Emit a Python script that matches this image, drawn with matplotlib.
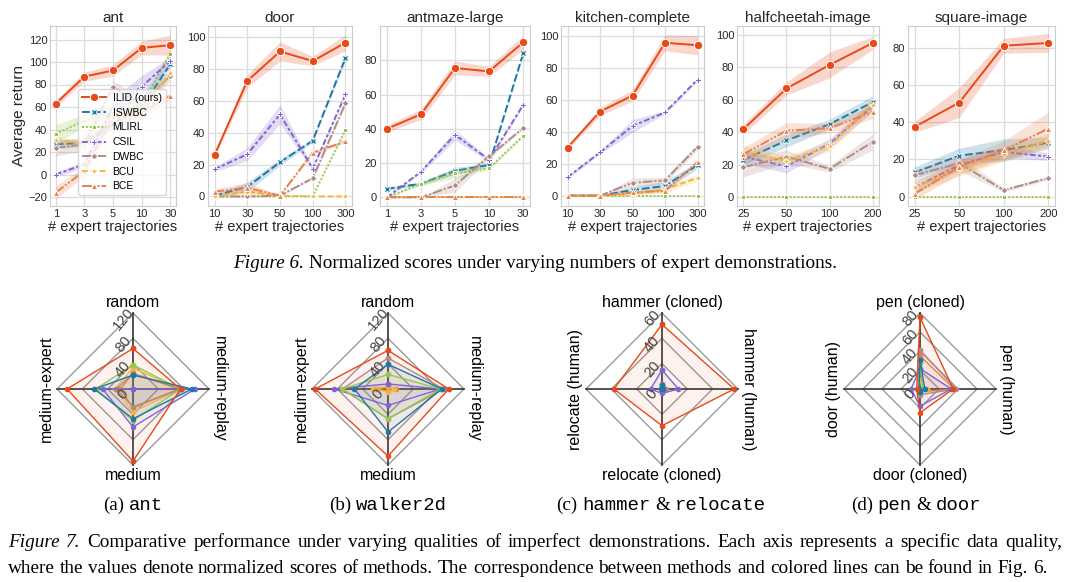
import numpy as np
import matplotlib
matplotlib.use('Agg')
import matplotlib.pyplot as plt

plt.rcParams['font.family'] = ['Liberation Sans', 'DejaVu Sans']
plt.rcParams['axes.unicode_minus'] = True

W, H = 1077, 582

methods = ['ILID (ours)', 'ISWBC', 'MLIRL', 'CSIL', 'DWBC', 'BCU', 'BCE']
colors = {'ILID (ours)': '#e64a19', 'ISWBC': '#1f78a4', 'MLIRL': '#95c84f',
          'CSIL': '#8064d4', 'DWBC': '#b08a84', 'BCU': '#f6b43f', 'BCE': '#e8804a'}
markers = {'ILID (ours)': 'o', 'ISWBC': 'X', 'MLIRL': (4, 0, 45), 'CSIL': 'P',
           'DWBC': (4, 0, 0), 'BCU': (4, 1, 0), 'BCE': '^'}
dashes = {'ILID (ours)': '-', 'ISWBC': (0, (4, 1.5)), 'MLIRL': (0, (1, 1)),
          'CSIL': (0, (3, 1.25, 1.5, 1.25)), 'DWBC': (0, (5, 1, 1, 1)),
          'BCU': (0, (3, 1.5)), 'BCE': (0, (5, 1, 1, 1, 1, 1))}

# ---- Figure 6 data (mean, sd) ----
ant_x = ['1', '3', '5', '10', '30']
ant_mean = {'ILID (ours)': [63, 87, 92.5, 112.5, 115], 'ISWBC': [27, 28, 45, 60, 98],
            'MLIRL': [36, 48, 55, 62, 107.5], 'CSIL': [0, 9, 60, 78, 101],
            'DWBC': [23.5, 27, 78, 62, 88], 'BCU': [31, 27, 50, 57, 90],
            'BCE': [-16, 3, 52, 55, 70]}
ant_sd = {'ILID (ours)': [3, 4, 5, 6, 9], 'ISWBC': [4, 3, 5, 6, 4], 'MLIRL': [8, 6, 6, 6, 3],
          'CSIL': [2, 3, 8, 10, 3], 'DWBC': [7, 6, 5, 6, 4], 'BCU': [3, 3, 4, 4, 3],
          'BCE': [6, 4, 5, 5, 3]}

door_x = ['10', '30', '50', '100', '300']
door_mean = {'ILID (ours)': [26, 72.5, 91, 85, 96.5], 'ISWBC': [0.5, 6, 21.5, 35, 87],
             'MLIRL': [0, 0, 0, 0, 42], 'CSIL': [17, 26.5, 51.5, 17.5, 64],
             'DWBC': [0, 0, 0.5, 11.5, 58.5], 'BCU': [0, 3, 0.5, 0, 0],
             'BCE': [3, 5.5, 0.5, 27.5, 34.5]}
door_sd = {'ILID (ours)': [1.5, 4, 6, 3, 5], 'ISWBC': [1, 3, 2, 1, 2], 'MLIRL': [0, 0, 0, 0, 1],
           'CSIL': [1.5, 4, 6, 1, 1], 'DWBC': [0, 0.5, 0.5, 1, 1], 'BCU': [0.5, 2, 0.5, 0, 0],
           'BCE': [2, 3, 0.5, 1, 1]}

antmaze_x = ['1', '3', '5', '10', '30']
antmaze_mean = {'ILID (ours)': [40, 48.5, 75.5, 73.5, 90.5], 'ISWBC': [5, 8, 15.5, 19, 84],
                'MLIRL': [0, 8, 14, 17, 36], 'CSIL': [0, 15, 36.5, 22, 54],
                'DWBC': [0, 0, 7, 24, 40.5], 'BCU': [0, 0, 0, 0, 0], 'BCE': [0, 0, 0, 0, 0]}
antmaze_sd = {'ILID (ours)': [2, 3, 4, 3, 4], 'ISWBC': [1, 1, 2, 1, 1], 'MLIRL': [0.5, 1, 3, 1, 1],
              'CSIL': [0.5, 1, 3, 1, 1], 'DWBC': [0, 0, 4, 1, 1], 'BCU': [0, 0, 0, 0, 0],
              'BCE': [0, 0, 0, 0, 0]}

kitchen_x = ['10', '30', '50', '100', '300']
kitchen_mean = {'ILID (ours)': [30, 52.5, 62.5, 95.5, 94], 'ISWBC': [0, 0, 3.5, 6, 19],
                'MLIRL': [0, 0, 0, 0, 0], 'CSIL': [11.5, 27, 43.5, 52, 72.5],
                'DWBC': [0, 0, 8, 9.5, 30.5], 'BCU': [0, 0, 1, 4, 11], 'BCE': [0, 0, 2, 3, 21]}
kitchen_sd = {'ILID (ours)': [1, 2.5, 3.5, 5, 6], 'ISWBC': [0, 0, 2, 3, 2], 'MLIRL': [0, 0, 0, 0, 0],
              'CSIL': [1, 1, 4, 1, 1], 'DWBC': [0, 0, 3, 2, 2], 'BCU': [0, 0, 1, 2, 2],
              'BCE': [0, 0, 1, 1, 1]}

cheetah_x = ['25', '50', '100', '200']
cheetah_mean = {'ILID (ours)': [42, 67, 81.5, 95], 'ISWBC': [23, 35, 45, 58.5],
                'MLIRL': [0, 0, 0, 0], 'CSIL': [25, 19, 33, 56], 'DWBC': [18.5, 25, 17.5, 34],
                'BCU': [28, 22.5, 31.5, 57], 'BCE': [26.5, 41, 42.5, 52.5]}
cheetah_sd = {'ILID (ours)': [3, 4, 8, 4], 'ISWBC': [3, 4, 3, 4], 'MLIRL': [0, 0, 0, 0],
              'CSIL': [4, 4, 3, 3], 'DWBC': [6, 4, 2, 5], 'BCU': [4, 3, 3, 4], 'BCE': [4, 5, 3, 4]}

square_x = ['25', '50', '100', '200']
square_mean = {'ILID (ours)': [37.5, 50.5, 81, 82.5], 'ISWBC': [13, 22, 25, 29],
               'MLIRL': [0, 0, 0, 0], 'CSIL': [5, 17, 24, 21.5], 'DWBC': [11.5, 18, 3.5, 10],
               'BCU': [5, 15, 23, 30], 'BCE': [1.5, 16, 25, 36.5]}
square_sd = {'ILID (ours)': [3, 8, 4, 5], 'ISWBC': [3, 4, 6, 3], 'MLIRL': [0, 0, 0, 0],
             'CSIL': [3, 3, 3, 2], 'DWBC': [3, 4, 1, 1], 'BCU': [3, 4, 4, 4], 'BCE': [3, 4, 5, 9]}

# ---- Figure 7 radar data: [top, right, bottom, left] ----
ant_axes = ['random', 'medium-replay', 'medium', 'medium-expert']
ant_radar = {'ILID (ours)': [64, 75, 114, 104], 'ISWBC': [22, 93, 47, 61],
             'MLIRL': [38, 75, 50, 59], 'CSIL': [0, 98, 60, 48], 'DWBC': [24, 77, 28, 27],
             'BCU': [33, 75, 36, 29], 'BCE': [25, 72, 30, 20]}
walker_axes = ['random', 'medium-replay', 'medium', 'medium-expert']
walker_radar = {'ILID (ours)': [61, 96, 106, 115], 'ISWBC': [39, 85, 68, 53],
                'MLIRL': [23, 83, 47, 72], 'CSIL': [8, 83, 26, 85], 'DWBC': [49, 88, 47, 72],
                'BCU': [4, 10, 4, 24], 'BCE': [3, 12, 3, 20]}
hammer_axes = ['hammer (cloned)', 'hammer (human)', 'relocate (cloned)', 'relocate (human)']
hammer_radar = {'ILID (ours)': [51, 57, 29, 38], 'ISWBC': [3, 1, 0, 1], 'MLIRL': [1, 0, 0, 0],
                'CSIL': [15, 13, 3.5, 9], 'DWBC': [4, 2, 0.5, 0.5], 'BCU': [1, 0.5, 0, 0],
                'BCE': [1.5, 3, 0, 0.5]}
pen_axes = ['pen (cloned)', 'pen (human)', 'door (cloned)', 'door (human)']
pen_radar = {'ILID (ours)': [75.5, 35, 25, 3.5], 'ISWBC': [31, 5, 3, 1], 'MLIRL': [27, 3, 1, 1],
             'CSIL': [21.5, 33, 18, 9.5], 'DWBC': [41, 38, 6, 2], 'BCU': [9, 7, 2, 1],
             'BCE': [35, 36, 3, 1]}

fig = plt.figure(figsize=(W / 100, H / 100), dpi=100)


def px_rect(x0, x1, y0, y1):
    return [x0 / W, 1 - y1 / H, (x1 - x0) / W, (y1 - y0) / H]


def line_panel(rect, title, xt, means, sds, ylim, yticks, ylabel=None, legend=False):
    ax = fig.add_axes(rect)
    x = np.arange(len(xt))
    handles = {}
    for i, m in enumerate(methods[::-1]):
        mu = np.array(means[m], float)
        sd = np.array(sds[m], float)
        z = 10 - i if m != 'ILID (ours)' else 20
        ax.fill_between(x, mu - sd, mu + sd, color=colors[m], alpha=0.22, lw=0, zorder=z - 0.5)
        ms = 6 if m == 'ILID (ours)' else 5
        h, = ax.plot(x, mu, color=colors[m], ls=dashes[m], lw=1.4, marker=markers[m], ms=ms,
                     mec='white', mew=0.7, zorder=z, label=m)
        handles[m] = h
    ax.set_xticks(x)
    ax.set_xticklabels(xt)
    ax.set_ylim(*ylim)
    ax.set_yticks(yticks)
    ax.set_title(title, fontsize=11, pad=3, color='#262626')
    ax.set_xlabel('# expert trajectories', fontsize=10.5, labelpad=1, color='#262626')
    if ylabel:
        ax.set_ylabel(ylabel, fontsize=11, labelpad=2, color='#262626')
    ax.grid(True, color='#dcdcdc', lw=0.9)
    ax.set_axisbelow(True)
    for s in ax.spines.values():
        s.set_color('#cccccc')
    ax.tick_params(length=0, labelsize=8, pad=2, colors='#262626')
    if legend:
        lg = ax.legend([handles[m] for m in methods], methods, loc='lower right',
                       bbox_to_anchor=(0.96, 0.03), fontsize=7.5, handlelength=2.3,
                       handletextpad=0.6, labelspacing=0.45, borderpad=0.4, framealpha=0.8,
                       edgecolor='#cccccc', fancybox=True)
        lg.set_zorder(30)
    return ax


line_panel(px_rect(50, 176, 26, 206), 'ant', ant_x, ant_mean, ant_sd, (-28, 132),
           range(-20, 121, 20), ylabel='Average return', legend=True)
line_panel(px_rect(208, 352, 26, 206), 'door', door_x, door_mean, door_sd, (-6, 107),
           range(0, 101, 20))
line_panel(px_rect(380, 530, 26, 206), 'antmaze-large', antmaze_x, antmaze_mean, antmaze_sd,
           (-5, 100), range(0, 81, 20))
line_panel(px_rect(561, 704, 26, 206), 'kitchen-complete', kitchen_x, kitchen_mean, kitchen_sd,
           (-6.5, 106), range(0, 101, 20))
line_panel(px_rect(737, 879, 26, 206), 'halfcheetah-image', cheetah_x, cheetah_mean, cheetah_sd,
           (-5.4, 105.5), range(0, 101, 20))
line_panel(px_rect(908, 1055, 26, 206), 'square-image', square_x, square_mean, square_sd,
           (-5, 91.6), range(0, 81, 20))


def radar_panel(cx, cy, R, labels, data, rmax, rticks):
    ax = fig.add_axes(px_rect(cx - R, cx + R, cy - R, cy + R), projection='polar')
    ax.set_theta_offset(np.pi / 2)
    ax.set_theta_direction(-1)
    ang = np.arange(4) * np.pi / 2
    closed = np.append(ang, ang[0])
    ax.set_ylim(0, rmax)
    ax.set_xticks([])
    ax.set_yticks([])
    ax.grid(False)
    ax.spines['polar'].set_visible(False)
    for v in rticks[1:]:
        ax.plot(closed, [v] * 5, color='#9a9a9a', lw=1, zorder=1, clip_on=False)
    for a in ang:
        ax.plot([a, a], [0, rmax], color='#333333', lw=1.2, zorder=1, clip_on=False)
    for m in methods[::-1]:
        vals = list(data[m]) + [data[m][0]]
        ax.fill(closed, vals, color=colors[m], alpha=0.07, zorder=2, lw=0)
        ax.plot(closed, vals, color=colors[m], lw=1, marker='o', ms=3, zorder=3, clip_on=False)
    for v in rticks:
        ax.annotate(str(v), xy=(0, v), xytext=(-7, -4), textcoords='offset points', rotation=50,
                    ha='center', va='center', fontsize=10.5, color='#444444', zorder=5)
    fs = 11.5
    ax.text(0.5, 1.02, labels[0], transform=ax.transAxes, ha='center', va='bottom', fontsize=fs)
    ax.text(1.02, 0.5, labels[1], transform=ax.transAxes, ha='left', va='center', rotation=-90,
            fontsize=fs)
    ax.text(0.5, -0.02, labels[2], transform=ax.transAxes, ha='center', va='top', fontsize=fs)
    ax.text(-0.02, 0.5, labels[3], transform=ax.transAxes, ha='right', va='center', rotation=90,
            fontsize=fs)
    return ax


radar_panel(133, 389, 76, ant_axes, ant_radar, 120, [0, 40, 80, 120])
radar_panel(388, 389, 76, walker_axes, walker_radar, 120, [0, 40, 80, 120])
radar_panel(662, 389, 76, hammer_axes, hammer_radar, 60, [0, 20, 40, 60])
radar_panel(920, 389, 76, pen_axes, pen_radar, 80, [0, 20, 40, 60, 80])

# ---- captions with mixed fonts ----
serif = {'family': ['Liberation Serif', 'DejaVu Serif']}
mono = {'family': ['Liberation Mono', 'DejaVu Sans Mono']}
renderer = fig.canvas.get_renderer()


def rich(x, y, parts, size, center=False, width=None):
    texts = []
    for s, fam, style in parts:
        t = fig.text(0, 1 - y / H, s, ha='left', va='baseline', fontsize=size,
                     fontstyle=style, **fam)
        texts.append(t)
    widths = [t.get_window_extent(renderer).width for t in texts]
    gap = size * 0.25 * 100 / 72
    if width is not None:
        gap = (width - sum(widths)) / (len(texts) - 1)
    total = sum(widths) + gap * (len(texts) - 1)
    pos = x - total / 2 if center else x
    for t, w in zip(texts, widths):
        t.set_x(pos / W)
        pos += w + gap


def words(s, fam=serif, style='normal'):
    return [(w, fam, style) for w in s.split()]


rich(535, 268, [('Figure 6.', serif, 'italic'),
                ('Normalized scores under varying numbers of expert demonstrations.', serif, 'normal')],
     13.9, center=True)

sub = 13.7
rich(133, 510, [('(a)', serif, 'normal'), ('ant', mono, 'normal')], sub, center=True)
rich(388, 510, [('(b)', serif, 'normal'), ('walker2d', mono, 'normal')], sub, center=True)
rich(661, 510, [('(c)', serif, 'normal'), ('hammer', mono, 'normal'), ('&', serif, 'normal'),
                ('relocate', mono, 'normal')], sub, center=True)
rich(916, 510, [('(d)', serif, 'normal'), ('pen', mono, 'normal'), ('&', serif, 'normal'),
                ('door', mono, 'normal')], sub, center=True)

cap = 13.9
rich(8, 547, [('Figure', serif, 'italic'), ('7.', serif, 'italic')] +
     words('Comparative performance under varying qualities of imperfect demonstrations. '
           'Each axis represents a specific data quality,'), cap, width=1054)
rich(8, 573, words('where the values denote normalized scores of methods. The correspondence '
                   'between methods and colored lines can be found in Fig. 6.'), cap)

fig.savefig('out.png', dpi=100)
